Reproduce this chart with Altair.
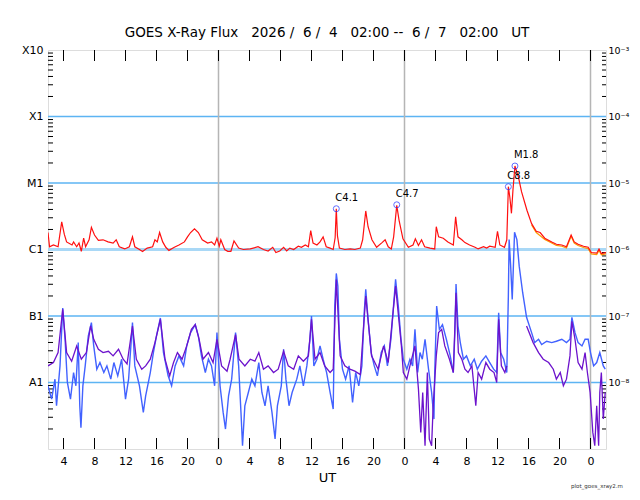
import altair as alt
import pandas as pd

# hours after 2026-06-04 02:00 UT, flux in W/m^2
RED = [
    (0.0, 1.8e-6), (0.2, 1.1e-6), (0.7, 1.17e-6), (1.3, 1.1e-6), (1.77, 2.6e-6), (2.1, 1.7e-6),
    (2.4, 1.3e-6), (3.1, 1.17e-6), (3.3, 1.3e-6), (3.7, 1.1e-6), (4.0, 1.25e-6), (4.3, 0.94e-6),
    (4.6, 1.48e-6), (4.85, 1.1e-6), (5.3, 1.4e-6), (5.6, 2.15e-6), (6.0, 1.65e-6), (6.5, 1.37e-6),
    (7.1, 1.4e-6), (7.75, 1.3e-6), (8.4, 1.25e-6), (8.8, 1.4e-6), (9.2, 1.1e-6), (9.9, 1.02e-6),
    (10.5, 1.1e-6), (10.9, 1.55e-6), (11.2, 1.1e-6), (11.8, 1.0e-6), (12.2, 0.93e-6), (12.8, 1.05e-6),
    (13.5, 1.1e-6), (13.8, 1.4e-6), (14.1, 1.3e-6), (14.4, 1.8e-6), (14.8, 1.3e-6), (15.2, 1.08e-6),
    (15.6, 0.97e-6), (16.3, 1.08e-6), (16.9, 1.17e-6), (17.6, 1.3e-6), (18.0, 1.55e-6), (18.4, 1.8e-6),
    (18.9, 2.05e-6), (19.4, 1.8e-6), (19.9, 1.4e-6), (20.6, 1.25e-6), (21.1, 1.3e-6), (21.5, 1.17e-6),
    (21.8, 1.48e-6), (22.1, 1.12e-6), (22.3, 1.4e-6), (22.8, 1.0e-6), (23.2, 0.94e-6), (23.6, 0.94e-6),
    (24.0, 1.35e-6), (24.6, 1.05e-6), (25.2, 1.0e-6), (26.1, 1.02e-6), (27.1, 1.1e-6), (27.8, 1.0e-6),
    (28.4, 0.95e-6), (29.0, 1.08e-6), (29.4, 0.9e-6), (29.9, 0.95e-6), (30.4, 1.08e-6), (30.8, 0.95e-6),
    (31.2, 1.05e-6), (31.7, 1.0e-6), (32.3, 1.12e-6), (32.7, 1.08e-6), (33.2, 1.17e-6), (33.6, 1.1e-6),
    (33.9, 1.92e-6), (34.2, 1.25e-6), (34.7, 1.17e-6), (35.1, 1.3e-6), (35.5, 1.55e-6), (35.9, 1.1e-6),
    (36.4, 1.05e-6), (36.8, 1.0e-6), (37.05, 1.5e-6), (37.2, 4.1e-6), (37.35, 1.6e-6), (37.6, 1.05e-6),
    (38.3, 1.0e-6), (39.0, 1.02e-6), (39.6, 1.0e-6), (40.3, 1.05e-6), (40.6, 1.4e-6), (41.0, 3.8e-6),
    (41.3, 2.2e-6), (41.8, 1.4e-6), (42.4, 1.08e-6), (43.1, 1.27e-6), (43.5, 1.4e-6), (43.9, 1.1e-6),
    (44.3, 1.02e-6), (44.6, 1.55e-6), (45.0, 4.6e-6), (45.3, 2.75e-6), (45.8, 1.45e-6), (46.5, 1.08e-6),
    (47.1, 1.17e-6), (47.4, 1.45e-6), (47.8, 1.15e-6), (48.2, 1.4e-6), (48.6, 1.1e-6), (49.3, 1.05e-6),
    (49.9, 1.02e-6), (50.1, 2.2e-6), (50.4, 1.55e-6), (51.0, 1.48e-6), (51.6, 1.3e-6), (52.3, 1.17e-6),
    (52.6, 3.1e-6), (52.9, 1.55e-6), (53.4, 1.4e-6), (53.8, 1.27e-6), (54.4, 1.17e-6), (55.1, 1.08e-6),
    (55.5, 1.02e-6), (56.2, 1.1e-6), (56.6, 1.05e-6), (57.0, 1.12e-6), (57.7, 1.08e-6), (58.0, 1.88e-6),
    (58.3, 1.17e-6), (58.9, 1.08e-6), (59.2, 1.4e-6), (59.4, 8.8e-6), (59.6, 6.0e-6), (59.8, 3.5e-6),
    (60.0, 8.0e-6), (60.25, 1.8e-5), (60.7, 1.23e-5), (61.1, 7.4e-6), (61.8, 3.9e-6), (62.4, 2.45e-6),
    (63.0, 1.88e-6), (63.5, 1.8e-6), (64.1, 1.48e-6), (65.0, 1.3e-6), (65.6, 1.2e-6), (66.3, 1.17e-6),
    (66.9, 1.1e-6), (67.5, 1.65e-6), (67.9, 1.3e-6), (68.4, 1.2e-6), (69.1, 1.12e-6), (69.7, 1.08e-6),
    (70.1, 0.9e-6), (70.8, 0.88e-6), (71.1, 1.02e-6), (71.4, 0.87e-6), (72.0, 0.9e-6),
]

ORANGE = [
    (62.4, 2.35e-6), (63.0, 1.8e-6), (64.1, 1.42e-6), (65.0, 1.25e-6), (65.6, 1.15e-6), (66.3, 1.12e-6),
    (66.9, 1.05e-6), (67.5, 1.58e-6), (67.9, 1.25e-6), (68.4, 1.15e-6), (69.1, 1.07e-6), (69.7, 1.03e-6),
    (70.1, 0.86e-6), (70.8, 0.84e-6), (71.1, 0.97e-6), (71.4, 0.83e-6), (72.0, 0.86e-6),
]

# short channels, stored as log10 of the flux
BLUE_LOG = [
    (0.0, -8.05), (0.47, -8.25), (0.9, -7.95), (1.1, -8.35), (1.55, -7.75), (1.9, -6.88), (2.2, -7.35),
    (2.5, -8.0), (2.9, -8.25), (3.3, -7.85), (3.6, -8.05), (3.9, -7.4), (4.1, -8.35), (4.25, -8.68),
    (4.5, -8.05), (4.8, -7.75), (5.2, -7.3), (5.6, -7.1), (5.9, -7.45), (6.3, -7.8), (6.7, -7.7),
    (7.2, -7.85), (7.6, -7.75), (8.1, -7.95), (8.5, -7.7), (9.0, -7.9), (9.5, -7.65), (10.0, -8.25),
    (10.4, -7.95), (10.9, -7.1), (11.2, -7.75), (11.8, -8.05), (12.3, -8.45), (12.6, -8.2), (13.2, -7.85),
    (13.6, -7.55), (14.0, -7.3), (14.5, -7.03), (14.9, -7.55), (15.5, -7.9), (15.95, -8.05), (16.4, -7.75),
    (16.9, -7.6), (17.5, -7.75), (17.9, -7.45), (18.4, -7.25), (19.0, -7.13), (19.4, -7.3), (19.8, -7.6),
    (20.3, -7.85), (20.7, -7.65), (21.1, -7.75), (21.5, -8.05), (21.8, -7.25), (22.2, -8.05), (22.6, -8.45),
    (22.9, -8.7), (23.3, -8.2), (23.7, -7.95), (24.2, -7.25), (24.6, -7.75), (24.9, -8.45), (25.1, -8.95),
    (25.4, -8.35), (25.85, -8.15), (26.3, -7.95), (26.7, -8.05), (27.2, -7.7), (27.6, -8.15), (28.0, -8.35),
    (28.4, -8.05), (28.9, -8.45), (29.3, -8.85), (29.6, -8.35), (30.1, -8.05), (30.4, -7.5), (30.7, -7.95),
    (31.1, -8.35), (31.5, -8.15), (32.1, -7.95), (32.5, -7.75), (32.95, -8.05), (33.4, -7.75), (33.8, -7.35),
    (34.0, -7.0), (34.3, -7.75), (34.7, -7.65), (35.1, -7.45), (35.5, -7.65), (35.95, -7.85), (36.4, -8.15),
    (36.8, -8.4), (37.0, -6.85), (37.2, -6.36), (37.4, -6.55), (37.6, -7.35), (38.0, -7.8), (38.4, -7.95),
    (38.85, -7.75), (39.3, -8.3), (39.7, -7.85), (40.1, -8.05), (40.5, -7.75), (40.8, -6.95), (41.0, -6.6),
    (41.3, -7.05), (41.7, -7.55), (42.1, -7.75), (42.5, -7.9), (43.0, -7.55), (43.4, -7.45), (43.8, -7.75),
    (44.25, -7.35), (44.55, -6.9), (44.85, -6.45), (45.2, -6.85), (45.55, -7.35), (45.85, -7.65),
    (46.3, -7.8), (46.7, -7.65), (47.05, -7.75), (47.35, -7.2), (47.7, -7.85), (48.0, -7.55), (48.3, -7.65),
    (48.65, -7.35), (49.1, -7.8), (49.5, -8.15), (49.8, -8.55), (49.9, -7.85), (50.15, -6.85), (50.5, -7.2),
    (50.9, -7.13), (51.4, -7.35), (51.9, -7.6), (52.3, -7.85), (52.5, -7.25), (52.65, -6.52), (52.9, -7.15),
    (53.2, -7.4), (53.6, -7.65), (54.0, -7.6), (54.5, -7.75), (55.0, -7.65), (55.4, -7.8), (55.95, -7.68),
    (56.5, -7.6), (57.0, -7.7), (57.5, -7.8), (57.9, -7.85), (58.15, -6.95), (58.4, -7.55), (58.8, -7.65),
    (59.2, -7.85), (59.4, -6.7), (59.5, -5.85), (59.7, -6.25), (59.9, -6.75), (60.05, -6.25), (60.2, -5.74),
    (60.5, -5.85), (60.8, -6.25), (61.25, -6.65), (61.75, -7.02), (62.4, -7.25), (62.8, -7.4), (63.3, -7.35),
    (63.7, -7.43), (64.35, -7.38), (65.0, -7.4), (65.6, -7.38), (66.3, -7.35), (66.9, -7.4), (67.35, -7.35),
    (67.6, -7.02), (68.0, -7.25), (68.4, -7.4), (68.9, -7.45), (69.3, -7.35), (69.7, -7.35), (70.0, -7.55),
    (70.4, -7.75), (70.8, -7.7), (71.2, -7.55), (71.65, -7.75), (71.9, -7.8),
]

# secondary short channel: hidden under the primary one during the M1.8 flare
PURPLE_LOG_A = [
    (0.0, -7.75), (0.7, -7.7), (1.3, -7.55), (1.9, -6.9), (2.4, -7.55), (3.05, -7.68), (3.7, -7.45),
    (4.3, -7.65), (4.95, -7.55), (5.5, -7.15), (5.9, -7.35), (6.5, -7.5), (7.1, -7.55), (7.8, -7.53),
    (8.4, -7.6), (9.1, -7.5), (9.7, -7.65), (10.2, -7.72), (10.9, -7.15), (11.4, -7.65), (12.1, -7.8),
    (12.6, -7.75), (13.2, -7.65), (13.8, -7.4), (14.5, -7.05), (15.1, -7.65), (15.7, -7.9), (16.2, -7.7),
    (16.7, -7.55), (17.3, -7.65), (17.9, -7.45), (18.5, -7.2), (19.0, -7.13), (19.5, -7.35), (20.0, -7.65),
    (20.7, -7.55), (21.3, -7.7), (21.8, -7.35), (22.4, -7.75), (23.1, -7.83), (23.5, -7.65), (24.2, -7.28),
    (24.65, -7.65), (25.4, -7.75), (26.1, -7.65), (26.7, -7.68), (27.2, -7.55), (27.8, -7.8), (28.4, -7.75),
    (29.1, -7.85), (29.7, -7.8), (30.4, -7.53), (31.0, -7.75), (31.7, -7.8), (32.3, -7.6), (32.95, -7.68),
    (33.6, -7.6), (34.0, -7.05), (34.45, -7.65), (35.1, -7.55), (35.7, -7.75), (36.4, -7.85), (36.8, -7.8),
    (37.2, -6.45), (37.7, -7.6), (38.3, -7.75), (38.95, -7.8), (39.6, -7.83), (40.3, -7.88), (41.0, -6.7),
    (41.75, -7.6), (42.6, -7.8), (43.3, -7.45), (43.9, -7.7), (44.85, -6.55), (45.6, -7.45), (45.85, -7.85),
    (46.3, -7.95), (46.7, -7.75), (47.35, -7.45), (47.8, -8.1), (48.1, -8.75), (48.35, -8.15), (48.65, -8.95),
    (48.95, -7.85), (49.2, -8.85), (49.5, -8.95), (49.7, -8.35), (50.1, -7.6), (50.4, -7.25), (50.8, -7.2),
    (51.2, -7.45), (51.8, -7.65), (52.3, -7.85), (52.65, -6.65), (52.95, -7.55), (53.4, -7.65), (53.8, -7.8),
    (54.2, -7.85), (54.7, -7.75), (54.95, -8.05), (55.2, -8.35), (55.5, -7.85), (55.95, -7.95), (56.5, -7.7),
    (57.0, -7.8), (57.55, -7.85), (57.9, -8.0), (58.15, -7.05), (58.5, -7.75), (58.95, -7.85), (59.2, -7.75),
]
PURPLE_LOG_B = [
    (61.75, -7.15), (62.6, -7.4), (63.3, -7.55), (63.9, -7.65), (64.6, -7.7),
    (65.2, -7.8), (65.6, -7.95), (66.1, -7.85), (66.5, -8.05), (66.9, -7.95), (67.35, -7.6), (67.6, -7.08),
    (68.0, -7.35), (68.4, -7.7), (68.9, -7.8), (69.3, -7.55), (69.6, -7.85), (69.95, -8.15), (70.3, -8.75),
    (70.55, -8.95), (70.8, -8.35), (71.05, -8.95), (71.2, -8.15), (71.4, -7.85), (71.65, -8.55), (71.9, -8.15),
]

FLARE_NAMES = ["C4.1", "C4.7", "C8.8", "M1.8"]
FLARE_HOURS = [37.2, 45.0, 59.4, 60.25]
FLARE_FLUX = [4.1e-6, 4.7e-6, 8.8e-6, 1.8e-5]

DECADES = [1e-3, 1e-4, 1e-5, 1e-6, 1e-7, 1e-8]
HOUR_TICKS = list(range(2, 71, 4))   # 04, 08, ... UT
DAY_LINES = [22, 46, 70]              # 00 UT on Jun 5, 6, 7

W, H = 558, 399
FONT = "DejaVu Sans"
NB = "\u00a0"
TITLE = "GOES X-Ray Flux   2026 /  6 /  4   02:00 --  6 /  7   02:00   UT".replace(" ", NB)

xs = alt.Scale(domain=[0, 72], nice=False, zero=False)
ys = alt.Scale(type="log", domain=[1e-9, 1e-3], nice=False)

# the same axis spec goes on every layer that uses x, so the shared axis merges cleanly
x_axis = alt.Axis(
    values=HOUR_TICKS, labelExpr="'' + ((datum.value + 2) % 24)", title="UT", orient="bottom",
    ticks=False, domain=False, grid=False, labelFlush=False, labelOverlap=False,
    labelFont=FONT, labelFontSize=11, labelColor="black", labelPadding=6,
    titleFont=FONT, titleFontSize=13, titleFontWeight="normal", titleColor="black", titlePadding=5,
)
left_axis = alt.Axis(
    values=DECADES, orient="left", title=None, ticks=False, domain=False, grid=False,
    labelExpr="['X10','X1','M1','C1','B1','A1'][round(-log(datum.value) / LN10) - 3]",
    labelFont=FONT, labelFontSize=11, labelColor="black", labelPadding=5,
)
right_axis = alt.Axis(
    values=DECADES, orient="right", title=None, ticks=False, domain=False, grid=False,
    labelExpr="'10\u207b' + ['\u00b3','\u2074','\u2075','\u2076','\u2077','\u2078'][round(-log(datum.value) / LN10) - 3]",
    labelFont=FONT, labelFontSize=9.5, labelColor="black", labelPadding=2,
)


def X():
    return alt.X("h:Q", scale=xs, axis=x_axis)


def frame(pairs, log=False):
    df = pd.DataFrame(pairs, columns=["h", "v"])
    df["flux"] = 10 ** df["v"] if log else df["v"]
    return df


def trace(df, color, width=1.2, yaxis=None):
    return alt.Chart(df).mark_line(color=color, strokeWidth=width, clip=True).encode(
        x=X(), y=alt.Y("flux:Q", scale=ys, axis=yaxis),
    )


grid_df = pd.DataFrame({
    "v": DECADES[1:],
    "w": [1.3, 1.3, 3.0, 1.3, 1.3],
    "c": ["#5db4f3", "#5db4f3", "#a9d8f6", "#5db4f3", "#5db4f3"],
})
grid = alt.Chart(grid_df).mark_rule().encode(
    y=alt.Y("v:Q", scale=ys, axis=None),
    color=alt.Color("c:N", scale=None),
    strokeWidth=alt.StrokeWidth("w:Q", scale=None),
)

minor = pd.DataFrame({"v": [m * 10.0 ** k for k in range(-9, -3) for m in range(2, 10)]})
left_ticks = alt.Chart(minor).mark_rule(color="black").encode(
    x=alt.value(0), x2=alt.value(5), y=alt.Y("v:Q", scale=ys, axis=None),
)
right_ticks = alt.Chart(minor).mark_rule(color="black").encode(
    x=alt.value(W - 4), x2=alt.value(W), y=alt.Y("v:Q", scale=ys, axis=None),
)

hours = pd.DataFrame({"h": HOUR_TICKS})
days = alt.Chart(pd.DataFrame({"h": DAY_LINES})).mark_rule(color="#b5b5b5", strokeWidth=1.5).encode(
    x=X(),
)
bottom_ticks = alt.Chart(hours).mark_rule(color="black").encode(
    x=X(), y=alt.value(H), y2=alt.value(H - 11),
)
top_ticks = alt.Chart(hours).mark_rule(color="black").encode(
    x=X(), y=alt.value(0), y2=alt.value(11),
)

flares = pd.DataFrame({"name": FLARE_NAMES, "h": FLARE_HOURS, "flux": FLARE_FLUX})
fbase = alt.Chart(flares).encode(x=X(), y=alt.Y("flux:Q", scale=ys, axis=None))
circles = fbase.mark_point(shape="circle", filled=False, color="#2030ff", size=36, strokeWidth=1)
labels = fbase.mark_text(align="left", baseline="bottom", dx=-1, dy=-6, font=FONT, fontSize=10,
                         color="black").encode(text="name:N")

credit = alt.Chart(pd.DataFrame({"t": ["plot_goes_xray2.m"]})).mark_text(
    font=FONT, fontSize=5.5, color="#333333", align="center",
).encode(text="t:N", x=alt.value(549), y=alt.value(436))

chart = (
    alt.layer(
        grid, right_ticks, left_ticks, days, bottom_ticks, top_ticks,
        trace(frame(BLUE_LOG, log=True), "#4262ff", width=1.4, yaxis=left_axis),
        trace(frame(PURPLE_LOG_A, log=True), "#6c12cc", width=1.3, yaxis=right_axis),
        trace(frame(PURPLE_LOG_B, log=True), "#6c12cc", width=1.3),
        trace(frame(ORANGE), "#ff9a00"),
        trace(frame(RED), "#ff1010"),
        circles, labels, credit,
    )
    .resolve_axis(y="independent")
    .properties(
        width=W, height=H,
        title=alt.TitleParams(TITLE, font=FONT, fontSize=13.5, fontWeight="normal", color="black",
                              anchor="middle", offset=5),
        autosize="none",
        padding={"left": 40, "top": 42, "right": 26, "bottom": 42},
    )
    .configure_view(stroke="black", strokeWidth=1)
    .configure(background="white")
)

chart.save("out.html", embed_options={"renderer": "svg", "actions": False})
